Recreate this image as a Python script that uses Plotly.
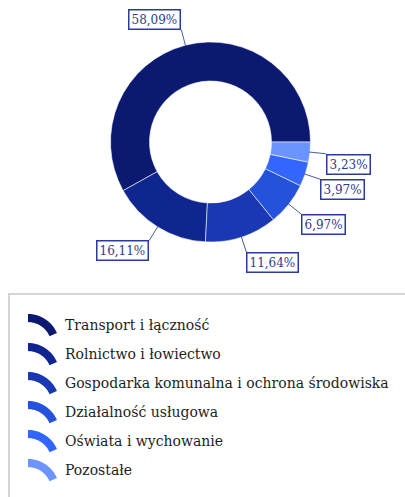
import math
import plotly.graph_objects as go

# Data
categories = [
    "Transport i łączność",
    "Rolnictwo i łowiectwo",
    "Gospodarka komunalna i ochrona środowiska",
    "Działalność usługowa",
    "Oświata i wychowanie",
    "Pozostałe",
]
shares = [58.09, 16.11, 11.64, 6.97, 3.97, 3.23]
colors = ["#0b1a70", "#0f2690", "#1a38b4", "#2552db", "#3366ff", "#6b94ff"]

# Canvas geometry (pixels)
W, H = 405, 497
CX, CY, R_OUT = 210.5, 142.0, 100.0
HOLE = 0.61
SERIF = "DejaVu Serif, Liberation Serif, serif"


def px(x):
    return x / W


def py(y):
    return 1 - y / H


def fmt_pct(v):
    return f"{v:.2f}".replace(".", ",") + "%"


total = sum(shares)
# Plotly lays the first slice clockwise of `rotation` when going counterclockwise,
# so shift it back by the first slice's sweep to have it begin at 3 o'clock.
first_sweep = shares[0] / total * 360.0

fig = go.Figure(
    go.Pie(
        labels=categories,
        values=shares,
        hole=HOLE,
        sort=False,
        direction="counterclockwise",
        rotation=90 - first_sweep,
        marker=dict(colors=colors, line=dict(color="rgba(255,255,255,0.55)", width=1)),
        textinfo="none",
        hoverinfo="label+percent",
        domain=dict(x=[px(CX - R_OUT), px(CX + R_OUT)],
                    y=[py(CY + R_OUT), py(CY - R_OUT)]),
        showlegend=False,
    )
)

shapes = []
annotations = []

# Value callouts with leader lines
start = 0.0
for v in shares:
    span = v / total * 360.0
    mid = math.radians(start + span / 2)
    start += span
    ux, uy = math.cos(mid), -math.sin(mid)
    x0, y0 = CX + ux * (R_OUT - 1), CY + uy * (R_OUT - 1)
    x1, y1 = CX + ux * (R_OUT + 16), CY + uy * (R_OUT + 16)
    shapes.append(dict(type="line", xref="paper", yref="paper",
                       x0=px(x0), y0=py(y0), x1=px(x1), y1=py(y1),
                       line=dict(color="#4a5aa8", width=1)))
    annotations.append(dict(
        x=px(x1), y=py(y1), xref="paper", yref="paper", showarrow=False,
        text=fmt_pct(v),
        xanchor="left" if ux > 0 else "right",
        yanchor="top" if uy > 0 else "bottom",
        font=dict(family=SERIF, size=12, color="#2e3a8c"),
        bgcolor="white", bordercolor="#2a3b9b", borderwidth=1.5, borderpad=2,
    ))

# Legend frame
shapes.append(dict(type="rect", xref="paper", yref="paper",
                   x0=px(9), y0=py(294), x1=px(412), y1=py(505),
                   line=dict(color="#d6d6d6", width=2), fillcolor="rgba(0,0,0,0)",
                   layer="below"))

# Legend rows: arc-shaped swatches and labels
ROW0, ROW_STEP = 325, 29
ARC_R, ARC_r = 31.6, 23.5
for i, (name, col) in enumerate(zip(categories, colors)):
    ty = ROW0 + i * ROW_STEP
    acx, acy = 28.0, ty + 20.6
    angs = [90 - (90 - 23.6) * k / 16 for k in range(17)]
    pts = [(acx + ARC_R * math.cos(math.radians(a)), acy - ARC_R * math.sin(math.radians(a))) for a in angs]
    pts += [(acx + ARC_r * math.cos(math.radians(a)), acy - ARC_r * math.sin(math.radians(a))) for a in reversed(angs)]
    path = "M " + " L ".join(f"{px(x):.5f},{py(y):.5f}" for x, y in pts) + " Z"
    shapes.append(dict(type="path", xref="paper", yref="paper", path=path,
                       fillcolor=col, line=dict(width=0)))
    annotations.append(dict(
        x=px(63), y=py(ty), xref="paper", yref="paper", showarrow=False,
        text=name, xanchor="left", yanchor="middle",
        font=dict(family=SERIF, size=14, color="#1e1e1e"),
    ))

fig.update_layout(
    width=W, height=H,
    margin=dict(l=0, r=0, t=0, b=0),
    paper_bgcolor="white",
    plot_bgcolor="white",
    shapes=shapes,
    annotations=annotations,
    showlegend=False,
)

fig.write_html("out.html")
